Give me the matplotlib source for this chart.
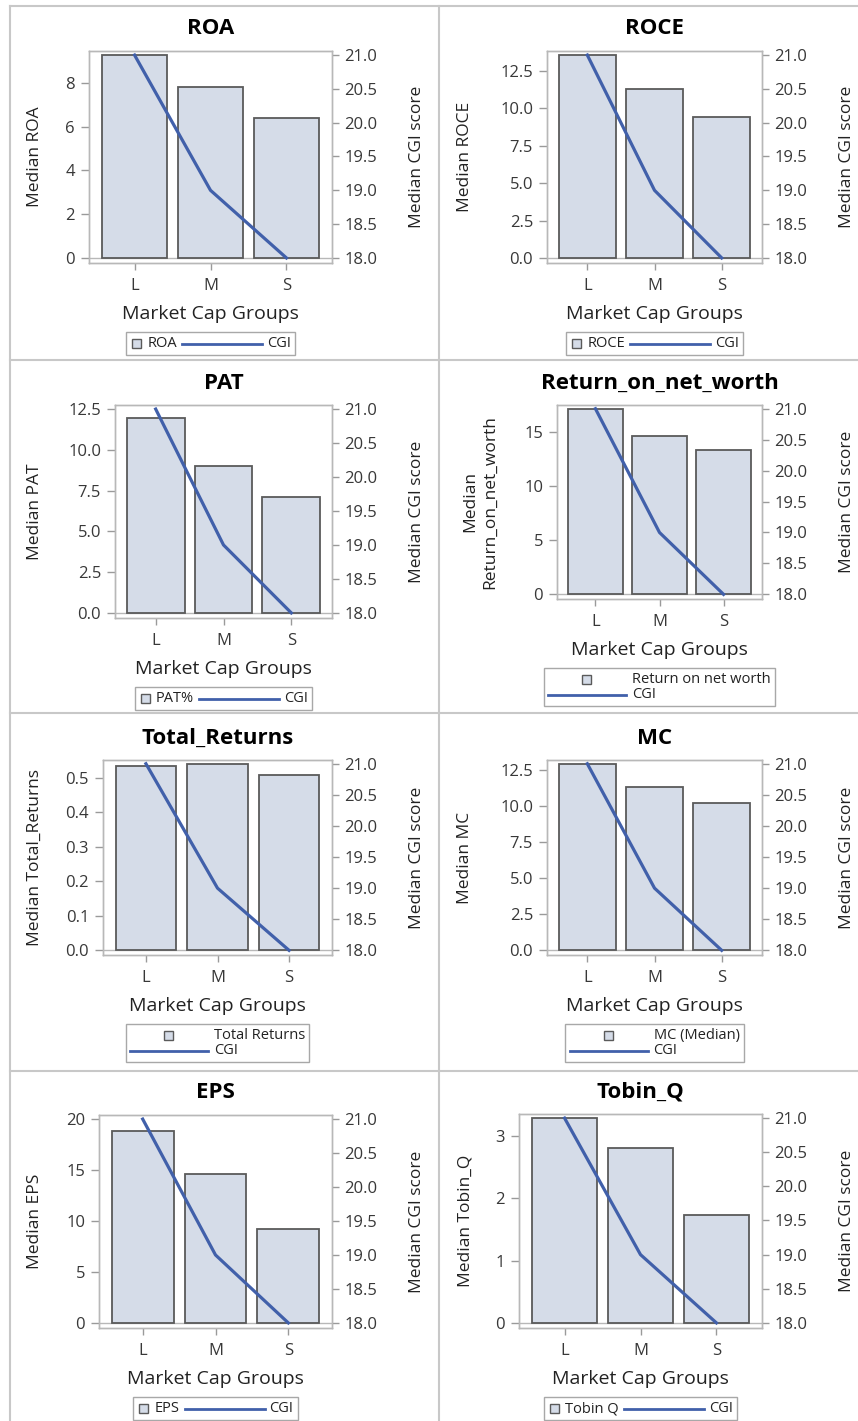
import matplotlib.pyplot as plt
import numpy as np
from matplotlib.lines import Line2D
from matplotlib.patches import Rectangle
from matplotlib.offsetbox import AnchoredOffsetbox, DrawingArea, HPacker, VPacker, TextArea
from matplotlib.ticker import MultipleLocator, FormatStrFormatter

plt.rcParams['font.family'] = ['Open Sans', 'DejaVu Sans']

W, H = 858, 1421
PT = 72 / 100  # points per pixel at dpi 100

groups = ['L', 'M', 'S']
cgi_median = [21.0, 19.0, 18.0]

roa = [9.27, 7.80, 6.38]
roce = [13.57, 11.30, 9.40]
pat = [11.93, 8.98, 7.11]
return_on_net_worth = [17.15, 14.59, 13.30]
total_returns = [0.534, 0.541, 0.509]
mc = [12.97, 11.38, 10.23]
eps = [18.85, 14.61, 9.25]
tobin_q = [3.29, 2.81, 1.73]

titles = ['ROA', 'ROCE', 'PAT', 'Return_on_net_worth',
          'Total_Returns', 'MC', 'EPS', 'Tobin_Q']
y_labels = ['Median ROA', 'Median ROCE', 'Median PAT', 'Median\nReturn_on_net_worth',
            'Median Total_Returns', 'Median MC', 'Median EPS', 'Median Tobin_Q']
legend_labels = ['ROA', 'ROCE', 'PAT%', 'Return on net worth',
                 'Total Returns', 'MC (Median)', 'EPS', 'Tobin Q']
tick_steps = [2, 2.5, 2.5, 5, 0.1, 2.5, 5, 1]
tick_formats = ['%d', '%.1f', '%.1f', '%d', '%.1f', '%.1f', '%d', '%d']
axis_max = [9.27, 13.57, 12.5, 17.15, 0.541, 12.97, 20, 3.29]
two_row_legend = [False, False, False, True, True, True, False, False]

# plot frame of each panel in pixels: left, right, top, bottom
frames = [(89, 332, 51, 263), (547, 762, 51, 263),
          (115, 332, 405, 618), (557, 762, 405, 599),
          (103, 332, 760, 955), (547, 762, 760, 955),
          (99, 332, 1115, 1328), (519, 762, 1114, 1328)]
ylabel_x = [35, 465, 35, 480, 35, 465, 35, 465]
cgi_label_x = [417, 847, 417, 847, 417, 847, 417, 847]

BAR_FILL = '#d5dce8'
BAR_EDGE = '#5a5a5a'
LINE_BLUE = '#4160aa'
FRAME_GREY = '#b8b8b8'
PANEL_GREY = '#c8c8c8'
TICK_TEXT = '#383838'

metrics = [roa, roce, pat, return_on_net_worth, total_returns, mc, eps, tobin_q]


def add_legend(ax, i, fh):
    text_props = dict(fontsize=10.5, color='#222222')
    square = Rectangle((0, 0), 9 * PT, 9 * PT, facecolor=BAR_FILL, edgecolor=BAR_EDGE, lw=1)
    if two_row_legend[i]:
        sq_area = DrawingArea(78 * PT, 13 * PT)
        square.set_xy((34 * PT, 2 * PT))
        sq_area.add_artist(square)
        ln_area = DrawingArea(78 * PT, 13 * PT)
        ln_area.add_artist(Line2D([0, 78 * PT], [6.5 * PT, 6.5 * PT], color=LINE_BLUE, lw=2))
        rows = [HPacker(children=[sq_area, TextArea(legend_labels[i], textprops=text_props)],
                        sep=6 * PT, align='center'),
                HPacker(children=[ln_area, TextArea('CGI', textprops=text_props)],
                        sep=6 * PT, align='center')]
        box = VPacker(children=rows, sep=0, align='left')
    else:
        sq_area = DrawingArea(12 * PT, 13 * PT)
        square.set_xy((1.5 * PT, 2 * PT))
        sq_area.add_artist(square)
        ln_area = DrawingArea(80 * PT, 13 * PT)
        ln_area.add_artist(Line2D([0, 80 * PT], [6.5 * PT, 6.5 * PT], color=LINE_BLUE, lw=2))
        box = HPacker(children=[sq_area, TextArea(legend_labels[i], textprops=text_props),
                                ln_area, TextArea('CGI', textprops=text_props)],
                      sep=5 * PT, align='center')
    legend = AnchoredOffsetbox(loc='upper center', child=box, pad=0.3, borderpad=0,
                               frameon=True, bbox_to_anchor=(0.5, -69 / fh),
                               bbox_transform=ax.transAxes)
    legend.patch.set_edgecolor('#a8a8a8')
    legend.patch.set_linewidth(1)
    legend.patch.set_boxstyle('square', pad=0)
    ax.add_artist(legend)


def draw_panel(fig, i):
    l, r, t, b = frames[i]
    fh = b - t
    x = np.arange(len(groups))

    ax = fig.add_axes([l / W, 1 - b / H, (r - l) / W, fh / H])
    ax.bar(x, metrics[i], width=0.85, color=BAR_FILL, edgecolor=BAR_EDGE, linewidth=1.3, zorder=2)
    ax.axhline(0, color=FRAME_GREY, lw=1, zorder=1)
    top = axis_max[i]
    ax.set_ylim(-0.025 * top, top * 1.02)
    ax.set_xlim(-0.6, 2.6)
    ax.set_xticks(x)
    ax.set_xticklabels(groups)
    ax.yaxis.set_major_locator(MultipleLocator(tick_steps[i]))
    ax.yaxis.set_major_formatter(FormatStrFormatter(tick_formats[i]))
    ax.tick_params(axis='y', direction='out', length=6, width=1, color='#9a9a9a',
                   labelsize=12, labelcolor=TICK_TEXT, pad=4)
    ax.tick_params(axis='x', direction='out', length=5, width=1, color='#9a9a9a',
                   labelsize=12, labelcolor=TICK_TEXT, pad=6)

    ax2 = ax.twinx()
    ax2.plot(x, cgi_median, color=LINE_BLUE, lw=2.3, zorder=3)
    ax2.set_ylim(18 - 0.025 * 3, 21 + 0.02 * 3)
    ax2.yaxis.set_major_locator(MultipleLocator(0.5))
    ax2.yaxis.set_major_formatter(FormatStrFormatter('%.1f'))
    ax2.tick_params(axis='y', direction='out', length=5, width=1, color='#9a9a9a',
                    labelsize=12, labelcolor=TICK_TEXT, pad=4)

    for a in (ax, ax2):
        for s in a.spines.values():
            s.set_color(FRAME_GREY)
            s.set_linewidth(1)

    ax.set_title(titles[i], fontsize=16, fontweight='bold', y=1 + 22 / fh, pad=0, va='center')
    ax.set_xlabel('Market Cap Groups', fontsize=14, color='#222222', va='center')
    ax.xaxis.set_label_coords(0.5, -51 / fh)
    ax.set_ylabel(y_labels[i], fontsize=12.5, color='#222222', va='center', ha='center',
                  linespacing=1.3)
    ax.yaxis.set_label_coords(ylabel_x[i] / W, 1 - (t + b) / 2 / H, transform=fig.transFigure)
    ax2.set_ylabel('Median CGI score', fontsize=12.5, color='#222222', va='center', ha='center')
    ax2.yaxis.set_label_coords(cgi_label_x[i] / W, 1 - (t + b) / 2 / H, transform=fig.transFigure)

    add_legend(ax, i, fh)


def main():
    fig = plt.figure(figsize=(W / 100, H / 100), dpi=100)
    for y in [6, 360, 713, 1071]:
        fig.add_artist(Line2D([10 / W, 1], [1 - y / H] * 2, color=PANEL_GREY, lw=1.5))
    for xp in [10, 439]:
        fig.add_artist(Line2D([xp / W] * 2, [1 - 6 / H, 0], color=PANEL_GREY, lw=1.5))
    for i in range(len(metrics)):
        draw_panel(fig, i)
    fig.savefig('out.png', dpi=100)


if __name__ == '__main__':
    main()
